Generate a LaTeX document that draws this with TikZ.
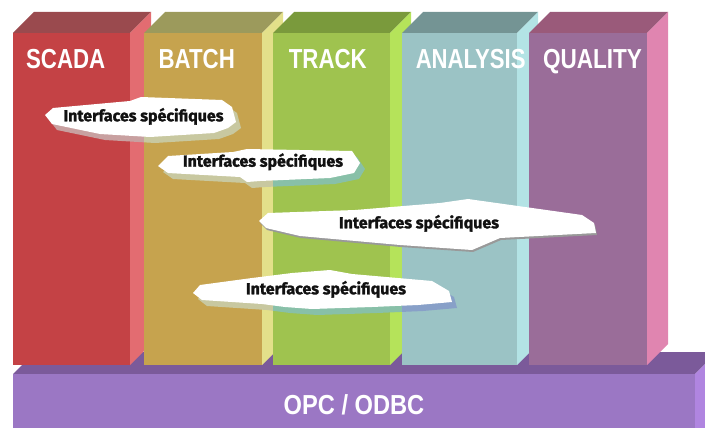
\documentclass[tikz,border=0pt]{standalone}
\usepackage{fontspec}
\usepackage{graphicx}
\setmainfont{Liberation Sans}
\newfontfamily\callfont[BoldFeatures={FakeBold=1.6}]{Fira Sans}
\definecolor{scF}{HTML}{C44245}\definecolor{scS}{HTML}{E36C71}\definecolor{scT}{HTML}{9A4A4E}
\definecolor{baF}{HTML}{C6A34E}\definecolor{baS}{HTML}{E3E08A}\definecolor{baT}{HTML}{9C9A5C}
\definecolor{trF}{HTML}{9FC34F}\definecolor{trS}{HTML}{B5E35A}\definecolor{trT}{HTML}{7A9A3C}
\definecolor{anF}{HTML}{9BC3C5}\definecolor{anS}{HTML}{B3E3E5}\definecolor{anT}{HTML}{749494}
\definecolor{quF}{HTML}{9A6D99}\definecolor{quS}{HTML}{E085B0}\definecolor{quT}{HTML}{9A5A7A}
\definecolor{opF}{HTML}{9B77C4}\definecolor{opS}{HTML}{B085E0}\definecolor{opT}{HTML}{7B5A9A}
\definecolor{shA}{HTML}{C8A0A0}\definecolor{shB}{HTML}{C8C8A0}\definecolor{shC}{HTML}{88C0A8}\definecolor{shD}{HTML}{88A0C8}
\definecolor{txt}{HTML}{111111}
\begin{document}
\begin{tikzpicture}[x=1pt,y=-1pt,
  collabel/.style={text=white,anchor=base,inner sep=0pt,font=\fontsize{27.5}{30}\selectfont\bfseries},
  calltext/.style={text=txt,anchor=base,inner sep=0pt,font=\callfont\fontsize{16}{18}\selectfont\bfseries},
  bubble/.style={fill=white}]
\useasboundingbox (0,0) rectangle (705,428);
\clip (0,0) rectangle (705,428);
% base slab
\fill[opT] (13,374) -- (695,374) -- (717,352) -- (35,352) -- cycle;
\fill[opS] (695,374) -- (717,352) -- (717,428) -- (695,428) -- cycle;
\fill[opF] (13,374) rectangle (695,428);
\node[collabel] (opc) at (354,414) {\scalebox{0.86}[1]{OPC / ODBC}};
% columns
\foreach \xa/\xb/\cf/\cs/\ct/\lab/\lx/\sx/\nm in {
  13/130/scF/scS/scT/SCADA/65.7/0.81/scada,
  144/262/baF/baS/baT/BATCH/196.7/0.81/batch,
  273/390/trF/trS/trT/TRACK/327.8/0.81/track,
  402/517/anF/anS/anT/ANALYSIS/470.7/0.805/analysis,
  529/647/quF/quS/quT/QUALITY/592.5/0.82/quality}{
  \fill[\ct] (\xa,33) -- (\xb,33) -- (\xb+21,12) -- (\xa+21,12) -- cycle;
  \fill[\cs] (\xb,33) -- (\xb+21,12) -- (\xb+21,344) -- (\xb,365) -- cycle;
  \fill[\cf] (\xa,33) rectangle (\xb,365);
  \node[collabel] (\nm) at (\lx,69) {\scalebox{\sx}[1]{\lab}};
}
% callouts
\def\cOne{(45,115) -- (53,108) -- (130,101) -- (141,97) -- (222,100) -- (232,107) -- (236,122) -- (228,128) -- (214,133) -- (150,137) -- (100,134) -- (52,124) -- cycle}
\def\cTwo{(158,166) -- (168,156) -- (233,152) -- (247,149) -- (352,151) -- (360,163) -- (354,173) -- (330,178) -- (260,181) -- (247,182) -- (240,177) -- (168,173) -- cycle}
\def\cThree{(259,221) -- (268,213) -- (355,210) -- (440,203) -- (468,199) -- (582,215) -- (594,223) -- (596,233) -- (500,238) -- (472,250) -- (400,245) -- (300,236) -- (266,228) -- cycle}
\def\cFour{(193,293) -- (200,285) -- (252,278) -- (292,273) -- (330,270) -- (352,274) -- (432,281) -- (449,291) -- (452,302) -- (418,305) -- (372,307) -- (312,309) -- (285,307) -- (262,304) -- (202,300) -- cycle}
\foreach \xa/\xb/\sc in {13/144/shA,144/273/shB,273/402/shC,402/529/shD}{
  \begin{scope}
    \clip (\xa,0) rectangle (\xb,428);
    \fill[\sc,shift={(5,6)}] \cOne;
    \fill[\sc,shift={(5,6)}] \cTwo;
    \fill[\sc,shift={(5,6)}] \cFour;
  \end{scope}
}
\fill[black!40,shift={(1,2)}] \cThree;
\fill[bubble] \cOne;
\fill[bubble] \cTwo;
\fill[bubble] \cThree;
\fill[bubble] \cFour;
\node[calltext] (if1) at (143.5,121.3) {Interfaces spécifiques};
\node[calltext] (if2) at (263,166.7) {Interfaces spécifiques};
\node[calltext] (if3) at (419,228.3) {Interfaces spécifiques};
\node[calltext] (if4) at (326,294.3) {Interfaces spécifiques};
\end{tikzpicture}
\end{document}
